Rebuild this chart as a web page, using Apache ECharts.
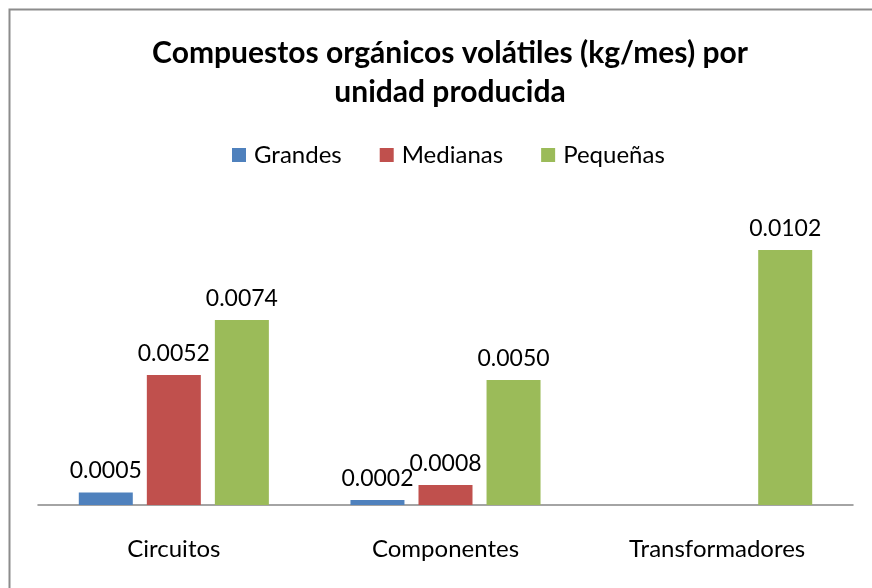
<!DOCTYPE html>
<html><head><meta charset="utf-8">
<script src="https://cdn.jsdelivr.net/npm/echarts@6/dist/echarts.min.js"></script>
<style>html,body{margin:0;padding:0;background:#fff;}#c{width:872px;height:588px;}</style>
</head><body><div id="c"></div>
<script>
const categories = ['Circuitos', 'Componentes', 'Transformadores'];
const grandes = [0.0005, 0.0002, null];
const medianas = [0.0052, 0.0008, null];
const pequenas = [0.0074, 0.0050, 0.0102];
const seriesNames = ['Grandes', 'Medianas', 'Pequeñas'];
const colors = ['#4F81BD', '#C0504D', '#9BBB59'];

const FONT = 'Lato, "Open Sans", sans-serif';
const chart = echarts.init(document.getElementById('c'));
const label = {
  show: true, position: 'top', distance: 10, color: '#000',
  fontFamily: FONT, fontSize: 23,
  formatter: p => p.value == null ? '' : Number(p.value).toFixed(4)
};
chart.setOption({
  animation: false,
  backgroundColor: '#fff',
  title: {
    text: 'Compuestos orgánicos volátiles (kg/mes) por\nunidad producida',
    left: 445, textAlign: 'center', top: 29,
    textStyle: { fontFamily: FONT, fontWeight: 'bold', fontSize: 30, lineHeight: 39, color: '#000' }
  },
  legend: {
    data: seriesNames, top: 138, left: 227,
    itemWidth: 14, itemHeight: 14, itemGap: 38,
    icon: 'rect',
    textStyle: { fontFamily: FONT, fontSize: 24, color: '#000', padding: [0, 0, 0, 3] }
  },
  grid: { left: 38, right: 19, top: 205, bottom: 83 },
  xAxis: {
    type: 'category', data: categories,
    axisLine: { lineStyle: { color: '#868686', width: 1.5 } },
    axisTick: { show: false },
    axisLabel: { fontFamily: FONT, fontSize: 24, color: '#000', margin: 32 }
  },
  yAxis: { type: 'value', min: 0, max: 0.012, show: false, splitLine: { show: false } },
  series: [
    { name: seriesNames[0], type: 'bar', data: grandes, itemStyle: { color: colors[0] }, barWidth: 54, barGap: '26%', label },
    { name: seriesNames[1], type: 'bar', data: medianas, itemStyle: { color: colors[1] }, barWidth: 54, barGap: '26%', label },
    { name: seriesNames[2], type: 'bar', data: pequenas, itemStyle: { color: colors[2] }, barWidth: 54, barGap: '26%', label }
  ],
  graphic: [{
    type: 'rect', shape: { x: 9.5, y: 9.5, width: 900, height: 700 },
    style: { fill: 'none', stroke: '#8c8c8c', lineWidth: 2 }, silent: true, z: 100
  }]
});
</script></body></html>
